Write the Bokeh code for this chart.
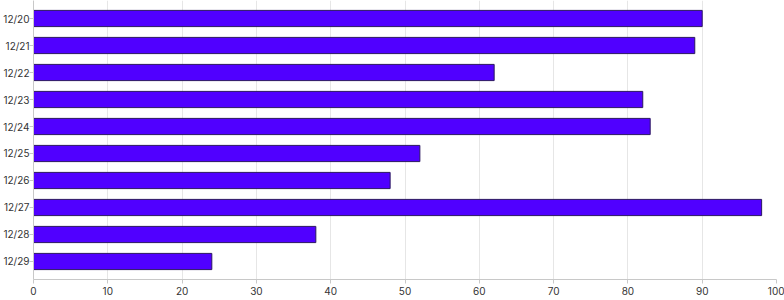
from bokeh.plotting import figure
from bokeh.models import FactorRange, Range1d, SingleIntervalTicker
from bokeh.embed import file_html
from bokeh.resources import INLINE

dates = ["12/20", "12/21", "12/22", "12/23", "12/24", "12/25", "12/26", "12/27", "12/28", "12/29"]
values = [90, 89, 62, 82, 83, 52, 48, 98, 38, 24]

yr = FactorRange(factors=list(reversed(dates)), range_padding=0.1667, range_padding_units="absolute")
p = figure(width=784, height=300, y_range=yr, x_range=Range1d(0, 100),
           output_backend="svg", toolbar_location=None,
           min_border_left=0, min_border_right=8, min_border_top=0, min_border_bottom=21)
p.outline_line_color = None
p.hbar(y=dates, right=values, left=0, height=0.6, fill_color="#5000ff",
       line_color="#2a1760", line_width=1)

p.xaxis.ticker = SingleIntervalTicker(interval=10, num_minor_ticks=0)
for ax in (p.xaxis[0], p.yaxis[0]):
    ax.axis_line_color = "#c8c8c8"
    ax.major_tick_line_color = "#c8c8c8"
    ax.minor_tick_line_color = None
    ax.major_tick_out = 4
    ax.major_tick_in = 0
    ax.major_label_text_color = "#333333"
    ax.major_label_text_font = "Inter"
    ax.major_label_text_font_size = "10px"
p.xaxis.major_label_standoff = 3
p.yaxis.major_label_standoff = 0
p.xgrid.grid_line_color = "#e6e6e6"
p.ygrid.grid_line_color = None

open("out.html", "w").write(file_html(p, INLINE))
